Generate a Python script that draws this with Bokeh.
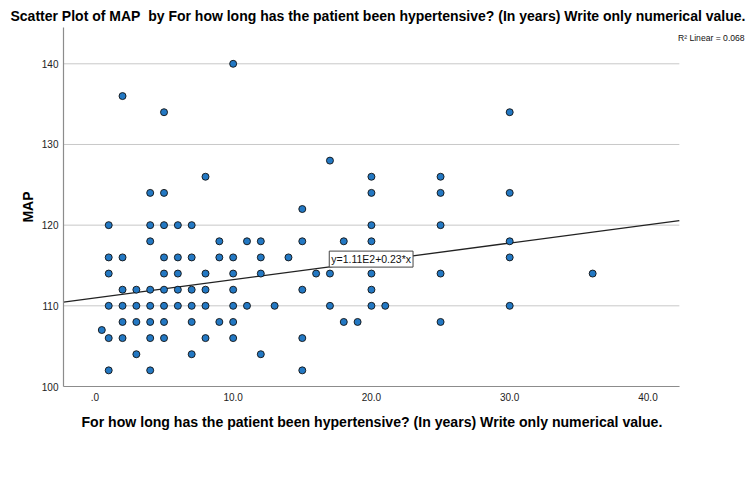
import numpy as np
from bokeh.plotting import figure
from bokeh.models import ColumnDataSource, FixedTicker, Label, Range1d, Title
from bokeh.embed import file_html
from bokeh.resources import INLINE

# ---- data ----
years = [0.5,
         1, 1, 1, 1, 1, 1,
         2, 2, 2, 2, 2, 2,
         3, 3, 3, 3,
         4, 4, 4, 4, 4, 4, 4, 4,
         5, 5, 5, 5, 5, 5, 5, 5, 5,
         6, 6, 6, 6, 6,
         7, 7, 7, 7, 7, 7,
         8, 8, 8, 8, 8,
         9, 9, 9,
         10, 10, 10, 10, 10, 10, 10,
         11, 11,
         12, 12, 12, 12,
         13, 14,
         15, 15, 15, 15, 15,
         16,
         17, 17, 17,
         18, 18,
         19,
         20, 20, 20, 20, 20, 20, 20,
         21,
         25, 25, 25, 25, 25,
         30, 30, 30, 30, 30,
         36]
map_values = [107,
              120, 116, 114, 110, 106, 102,
              136, 116, 112, 110, 108, 106,
              112, 110, 108, 104,
              124, 120, 118, 112, 110, 108, 106, 102,
              134, 124, 120, 116, 114, 112, 110, 108, 106,
              120, 116, 114, 112, 110,
              120, 116, 112, 110, 108, 104,
              126, 114, 112, 110, 106,
              118, 116, 108,
              140, 116, 114, 112, 110, 108, 106,
              118, 110,
              118, 116, 114, 104,
              110, 116,
              122, 118, 112, 106, 102,
              114,
              128, 114, 110,
              118, 108,
              108,
              126, 124, 120, 118, 114, 112, 110,
              110,
              126, 124, 120, 114, 108,
              134, 124, 118, 116, 110,
              114]

x_ticks = [0, 10, 20, 30, 40]
x_tick_labels = [".0", "10.0", "20.0", "30.0", "40.0"]
y_ticks = [100, 110, 120, 130, 140]

fit_intercept = 110.97
fit_slope = 0.227
equation_text = "y=1.11E2+0.23*x"
r2_text = "R\u00b2 Linear = 0.068"

title_text = "Scatter Plot of MAP\u00a0 by For how long has the patient been hypertensive? (In years) Write only numerical value."
x_label = "For how long has the patient been hypertensive? (In years) Write only numerical value."
y_label = "MAP"

FONT = "Liberation Sans"

# axis extent (data) and the visible view (extra room on the right for the R2 note)
x_start, x_end = -2.27, 42.27
view_x_end = 47.56
y_start, y_end = 100.0, 144.5

p = figure(width=752, height=474, output_backend="svg", toolbar_location=None,
           x_range=Range1d(x_start, view_x_end), y_range=Range1d(y_start, y_end),
           min_border_left=63, min_border_right=0, min_border_top=27, min_border_bottom=88)
p.outline_line_color = None
p.background_fill_color = "white"
p.border_fill_color = "white"

# title
p.title.text = title_text
p.title.text_font = FONT
p.title.text_font_size = "14px"
p.title.text_font_style = "bold"
p.title.text_color = "#000000"
p.title.align = "left"
p.title.offset = -53
p.title.standoff = 7

# grid (drawn as segments so they stop at the axis end)
p.xgrid.grid_line_color = None
p.ygrid.grid_line_color = None
p.segment(x0=[x_start] * len(y_ticks), y0=y_ticks, x1=[x_end] * len(y_ticks), y1=y_ticks,
          line_color="#c8c8c8", line_width=1)

# axes
p.xaxis.ticker = FixedTicker(ticks=x_ticks)
p.xaxis.major_label_overrides = {t: l for t, l in zip(x_ticks, x_tick_labels)}
p.xaxis.bounds = (x_start, x_end)
p.yaxis.ticker = FixedTicker(ticks=y_ticks)
for ax in (p.xaxis, p.yaxis):
    ax.axis_line_color = "#8c8c8c"
    ax.axis_line_width = 1.2
    ax.major_tick_line_color = None
    ax.minor_tick_line_color = None
    ax.major_tick_out = 0
    ax.major_tick_in = 0
    ax.major_label_text_font = FONT
    ax.major_label_text_font_size = "10px"
    ax.major_label_text_color = "#222222"
    ax.axis_label_text_font = FONT
    ax.axis_label_text_font_size = "14px"
    ax.axis_label_text_font_style = "bold"
    ax.axis_label_text_color = "#000000"
p.xaxis.major_label_standoff = 6
p.yaxis.major_label_standoff = 5
p.yaxis.axis_label = y_label
p.yaxis.axis_label_standoff = 3

# x-axis title, placed below the axis and aligned like the reference
p.add_layout(Title(text=x_label, text_font=FONT, text_font_size="14.1px",
                   text_font_style="bold", text_color="#000000",
                   align="left", offset=18, standoff=16), "below")

# regression line across the axis extent
lx = np.array([x_start, x_end])
ly = fit_intercept + fit_slope * lx
p.line(lx, ly, line_color="#222222", line_width=1.3)

# points
src = ColumnDataSource(dict(x=years, y=map_values))
p.scatter("x", "y", source=src, size=7, fill_color="#2378c3",
          line_color="#111111", line_width=0.9)

# equation label
p.add_layout(Label(x=16.95, y=114.8, text=equation_text, text_font=FONT,
                   text_font_size="10.5px", text_color="#111111",
                   text_baseline="bottom", text_align="left",
                   background_fill_color="white", border_line_color="#444444",
                   border_line_width=1, padding=2))

# R2 note at the top right, beside the axis end
p.add_layout(Label(x=x_end - 0.1, y=143.25, text=r2_text,
                   text_font=FONT, text_font_size="8.6px",
                   text_align="left", text_baseline="middle", text_color="#111111"))

open("out.html", "w").write(file_html(p, INLINE))
